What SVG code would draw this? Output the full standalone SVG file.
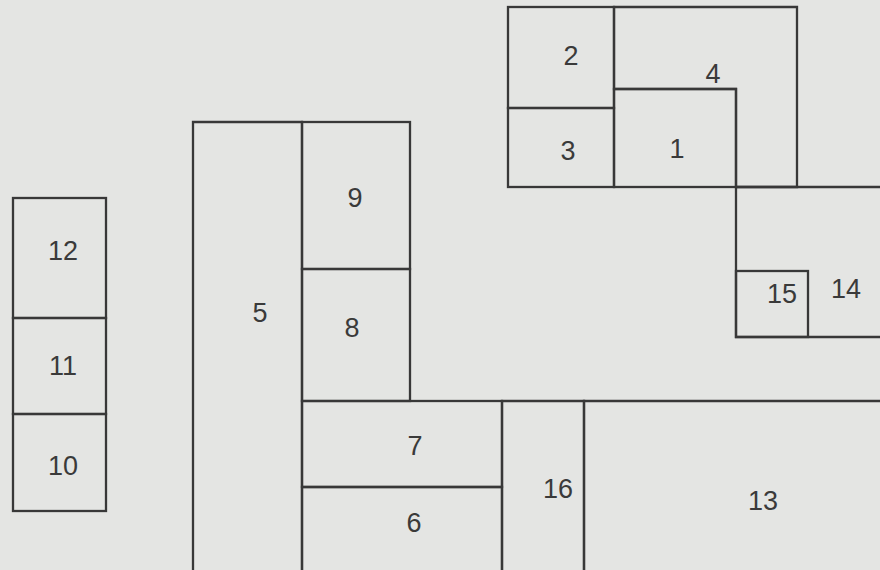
<svg xmlns="http://www.w3.org/2000/svg" width="880" height="570" viewBox="0 0 880 570">
<style>
.w{fill:none;stroke:#383838;stroke-width:2.3;stroke-linejoin:miter;stroke-linecap:square}
.t{font-family:"Liberation Sans",Arial,sans-serif;font-size:27px;fill:#3a3a3a;text-anchor:middle}
</style>
<rect x="0" y="0" width="880" height="570" fill="#e4e5e3"/>
<g id="room-12"><rect class="w" x="13" y="198" width="93" height="120"/><text class="t" x="63" y="260">12</text></g>
<g id="room-11"><rect class="w" x="13" y="318" width="93" height="96"/><text class="t" x="63" y="375">11</text></g>
<g id="room-10"><rect class="w" x="13" y="414" width="93" height="97"/><text class="t" x="63" y="475">10</text></g>
<g id="room-5"><path class="w" d="M193,572 V122 H302 V572"/><text class="t" x="260" y="322">5</text></g>
<g id="room-9"><rect class="w" x="302" y="122" width="108" height="147"/><text class="t" x="355" y="207">9</text></g>
<g id="room-8"><rect class="w" x="302" y="269" width="108" height="132"/><text class="t" x="352" y="337">8</text></g>
<g id="room-7"><rect class="w" x="302" y="401" width="200" height="86"/><text class="t" x="415" y="455">7</text></g>
<g id="room-6"><path class="w" d="M302,572 V487 H502 V572"/><text class="t" x="414" y="532">6</text></g>
<g id="room-16"><path class="w" d="M502,572 V401 H584 V572"/><text class="t" x="558" y="498">16</text></g>
<g id="room-13"><path class="w" d="M584,572 V401 H882"/><text class="t" x="763" y="510">13</text></g>
<g id="room-2"><rect class="w" x="508" y="7" width="106" height="101"/><text class="t" x="571" y="65">2</text></g>
<g id="room-3"><rect class="w" x="508" y="108" width="106" height="79"/><text class="t" x="568" y="160">3</text></g>
<g id="room-4"><path class="w" d="M614,7 H797 V187 H736 V89 H614 Z"/><text class="t" x="713" y="83">4</text></g>
<g id="room-1"><rect class="w" x="614" y="89" width="122" height="98"/><text class="t" x="677" y="158">1</text></g>
<g id="room-14"><path class="w" d="M882,187 H736 V337 H882"/><text class="t" x="846" y="298">14</text></g>
<g id="room-15"><rect class="w" x="736" y="271" width="72" height="66"/><text class="t" x="782" y="303">15</text></g>
</svg>
